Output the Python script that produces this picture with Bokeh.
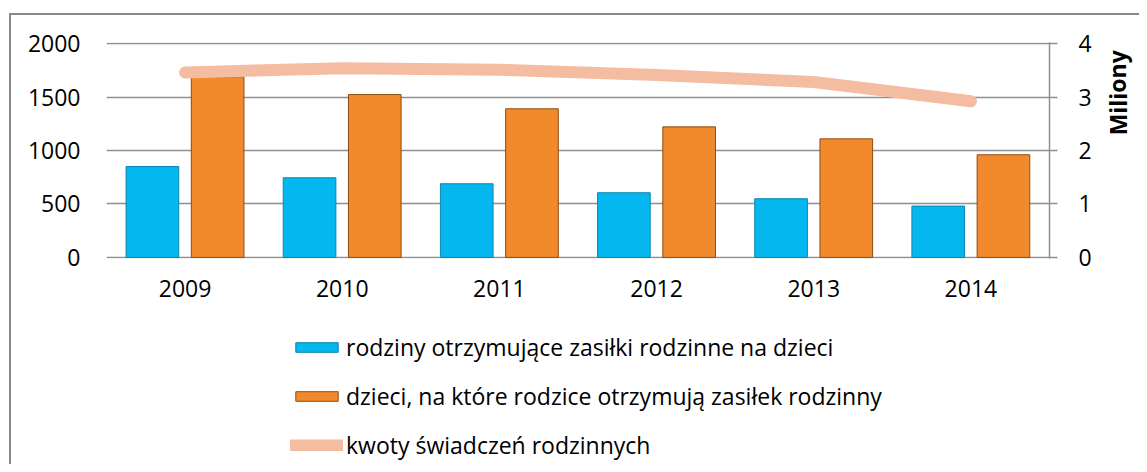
from bokeh.plotting import figure
from bokeh.layouts import column, row
from bokeh.models import (Range1d, LinearAxis, SingleIntervalTicker, Legend,
                          LegendItem, Label, FactorRange, ColumnDataSource)
from bokeh.transform import dodge
from bokeh.embed import file_html
from bokeh.resources import INLINE

years = ["2009", "2010", "2011", "2012", "2013", "2014"]
families = [850, 745, 689, 605, 549, 480]
children = [1690, 1523, 1390, 1221, 1109, 960]
amounts = [3.46, 3.54, 3.51, 3.41, 3.28, 2.92]
series_names = [
    "rodziny otrzymujące zasiłki rodzinne na dzieci",
    "dzieci, na które rodzice otrzymują zasiłek rodzinny",
    "kwoty świadczeń rodzinnych",
]
right_axis_title = "Miliony"

FONT = "Open Sans"
FS = "23px"
GRID = "#8f8f8f"
BLUE, BLUE_EDGE = "#04B7EF", "#0A86B0"
ORANGE, ORANGE_EDGE = "#F08A2C", "#8E4C12"
PEACH = "#F4BDA2"

src = ColumnDataSource(dict(years=years, families=families,
                            children=children, amounts=amounts))

# ---------------- main chart ----------------
p = figure(x_range=FactorRange(*years), y_range=Range1d(-10, 2010),
           width=1083, height=305, output_backend="svg", toolbar_location=None,
           min_border_left=95, min_border_right=44, min_border_top=27,
           min_border_bottom=62)
p.outline_line_color = None
p.border_fill_color = "white"
p.extra_y_ranges = {"right": Range1d(-0.02, 4.02)}

b1 = p.vbar(x=dodge("years", -0.208, range=p.x_range), top="families", width=0.335,
            source=src, fill_color=BLUE, line_color=BLUE_EDGE, line_width=1)
b2 = p.vbar(x=dodge("years", 0.207, range=p.x_range), top="children", width=0.335,
            source=src, fill_color=ORANGE, line_color=ORANGE_EDGE, line_width=1)
ln = p.line(x="years", y="amounts", source=src, y_range_name="right",
            line_color=PEACH, line_width=12, line_cap="round", line_join="round")

p.yaxis.ticker = SingleIntervalTicker(interval=500)
p.yaxis.axis_line_color = None
p.yaxis.major_tick_line_color = None
p.yaxis.minor_tick_line_color = None
p.yaxis.major_label_standoff = 20
p.yaxis.major_label_text_font = FONT
p.yaxis.major_label_text_font_size = FS
p.yaxis.major_label_text_color = "black"

p.xaxis.axis_line_color = None
p.xaxis.major_tick_line_color = None
p.xaxis.minor_tick_line_color = None
p.xaxis.major_label_standoff = 15
p.xaxis.major_label_text_font = FONT
p.xaxis.major_label_text_font_size = FS
p.xaxis.major_label_text_color = "black"

ra = LinearAxis(y_range_name="right", ticker=SingleIntervalTicker(interval=1))
ra.axis_line_color = GRID
ra.axis_line_width = 1.5
ra.major_tick_line_color = GRID
ra.major_tick_line_width = 1.5
ra.major_tick_out = 8
ra.major_tick_in = 0
ra.minor_tick_line_color = None
ra.major_label_standoff = 21
ra.major_label_text_font = FONT
ra.major_label_text_font_size = FS
ra.major_label_text_color = "black"
p.add_layout(ra, "right")

p.xgrid.grid_line_color = None
p.ygrid.grid_line_color = GRID
p.ygrid.grid_line_width = 1.5

# ---------------- right-axis title ----------------
t = figure(width=45, height=305, output_backend="svg", toolbar_location=None,
           x_range=Range1d(0, 45), y_range=Range1d(0, 305),
           min_border=0, outline_line_color=None)
t.axis.visible = False
t.grid.visible = False
t.add_layout(Label(x=23, y=234, text=right_axis_title, angle=1.5708,
                   text_align="center", text_baseline="middle",
                   text_font=FONT, text_font_size=FS, text_font_style="bold",
                   text_color="black"))

# ---------------- legend (same series, drawn outside the visible range) ----------------
lg = figure(width=1128, height=144, output_backend="svg", toolbar_location=None,
            x_range=FactorRange(*years), y_range=Range1d(5000, 5001),
            min_border=0, outline_line_color=None)
lg.extra_y_ranges = {"right": Range1d(50, 51)}
lg.axis.visible = False
lg.grid.visible = False
e1 = lg.vbar(x="years", top="families", width=0.335, source=src,
             fill_color=BLUE, line_color=BLUE_EDGE, line_width=1)
e2 = lg.vbar(x="years", top="children", width=0.335, source=src,
             fill_color=ORANGE, line_color=ORANGE_EDGE, line_width=1)
e3 = lg.line(x="years", y="amounts", source=src, y_range_name="right",
             line_color=PEACH, line_width=12, line_cap="round")
legend = Legend(items=[LegendItem(label=series_names[0], renderers=[e1]),
                       LegendItem(label=series_names[1], renderers=[e2]),
                       LegendItem(label=series_names[2], renderers=[e3])],
                location=(279, 3), orientation="vertical",
                glyph_width=53, glyph_height=12, label_standoff=3,
                label_height=20, spacing=17, padding=0, margin=0,
                border_line_color=None, background_fill_alpha=0,
                label_text_font=FONT, label_text_font_size=FS,
                label_text_color="black")
lg.add_layout(legend)

layout = column(row(p, t, spacing=0), lg, spacing=0,
                margin=(13, 0, 0, 9),
                styles={"border-top": "2px solid #898989",
                        "border-left": "2px solid #898989"})

open("out.html", "w").write(file_html(layout, INLINE))
